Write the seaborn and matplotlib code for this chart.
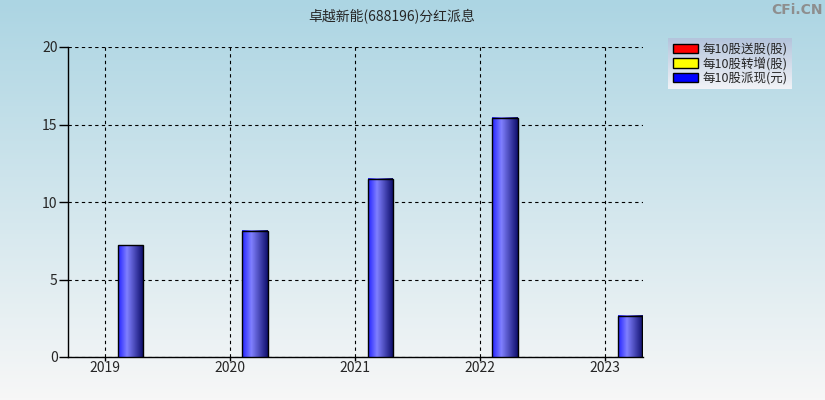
import numpy as np
import pandas as pd
import matplotlib
matplotlib.use("Agg")
from matplotlib import pyplot as plt
from matplotlib.patches import Patch
from matplotlib.colors import LinearSegmentedColormap
import seaborn as sns

years = ["2019", "2020", "2021", "2022", "2023"]
song_gu = [0, 0, 0, 0, 0]
zhuan_zeng = [0, 0, 0, 0, 0]
pai_xian = [7.2, 8.15, 11.5, 15.45, 2.65]
series_names = ["每10股送股(股)", "每10股转增(股)", "每10股派现(元)"]
series_colors = ["#ff0000", "#ffff00", "#0000ff"]
title = "卓越新能(688196)分红派息"

df = pd.DataFrame({"year": years * 3,
                   "series": [series_names[0]] * 5 + [series_names[1]] * 5 + [series_names[2]] * 5,
                   "value": song_gu + zhuan_zeng + pai_xian})

sns.set_style("white")
plt.rcParams["font.family"] = ["Noto Sans CJK SC", "DejaVu Sans"]

fig = plt.figure(figsize=(8.25, 4), dpi=100)

# background gradient, light blue at top to near white at bottom
bg = fig.add_axes([0, 0, 1, 1], zorder=-10)
bg_cmap = LinearSegmentedColormap.from_list("bg", ["#acd5e3", "#f7f7f7"])
bg.imshow(np.linspace(0, 1, 400).reshape(-1, 1), aspect="auto", cmap=bg_cmap, extent=[0, 1, 0, 1])
bg.axis("off")

ax = fig.add_axes([68 / 825, 43 / 400, 575 / 825, 310 / 400])
ax.set_facecolor("none")
sns.barplot(data=df, x="year", y="value", hue="series", hue_order=series_names,
            palette=series_colors, width=0.6, edgecolor="black", linewidth=1,
            ax=ax, legend=False, zorder=3)

# horizontal shading on bars
bar_cmap = LinearSegmentedColormap.from_list(
    "bar", [(0, "#2424ff"), (0.36, "#8080ff"), (1, "#10106e")])
shade = np.linspace(0, 1, 64).reshape(1, -1)
for p in list(ax.patches):
    if p.get_height() > 0:
        x0, y0, w, h = p.get_x(), p.get_y(), p.get_width(), p.get_height()
        ax.imshow(shade, extent=[x0, x0 + w, y0, y0 + h], aspect="auto",
                  cmap=bar_cmap, zorder=p.get_zorder() - 0.1)
        p.set_facecolor("none")
    else:
        p.set_visible(False)

ax.set_xlim(-0.296, 4.304)
ax.set_ylim(0, 20)
ax.set_yticks([0, 5, 10, 15, 20])
ax.set_aspect("auto")
ax.grid(True, color="black", linestyle=(0, (3, 3)), linewidth=0.8)
ax.set_axisbelow(True)
for s in ["top", "right"]:
    ax.spines[s].set_visible(False)
for s in ["left", "bottom"]:
    ax.spines[s].set_color("black")
    ax.spines[s].set_linewidth(1)
ax.tick_params(axis="y", direction="out", length=6.5, width=1, color="black",
               labelsize=10, left=True, pad=1)
ax.tick_params(axis="x", direction="out", length=3, width=1, color="black",
               labelsize=10, bottom=True, pad=0)
ax.set_xlabel("")
ax.set_ylabel("")

fig.text(392 / 825, 1 - 17 / 400, title, ha="center", va="center", fontsize=10)
fig.text(0.997, 0.993, "CFi.CN", ha="right", va="top", color="#8e8e8e",
         fontsize=10, fontweight="bold", family="DejaVu Sans")

handles = [Patch(facecolor=c, edgecolor="black", linewidth=1) for c in series_colors]
leg = fig.legend(handles, series_names, loc="upper left",
                 bbox_to_anchor=(662 / 825, 1 - 32 / 400), frameon=False,
                 handlelength=2.0, handleheight=0.8, handletextpad=0.4,
                 labelspacing=0.1, borderpad=0.35, fontsize=9)
fig.canvas.draw()
bb = leg.get_window_extent().transformed(fig.transFigure.inverted())
lg_bg = fig.add_axes([bb.x0, bb.y0, bb.width, bb.height], zorder=1)
lg_cmap = LinearSegmentedColormap.from_list("lg", ["#b4c4dc", "#f2f3f7"])
lg_bg.imshow(np.linspace(0, 1, 100).reshape(-1, 1), aspect="auto", cmap=lg_cmap, extent=[0, 1, 0, 1])
lg_bg.axis("off")
leg.set_zorder(5)

fig.savefig("out.png", dpi=100)
